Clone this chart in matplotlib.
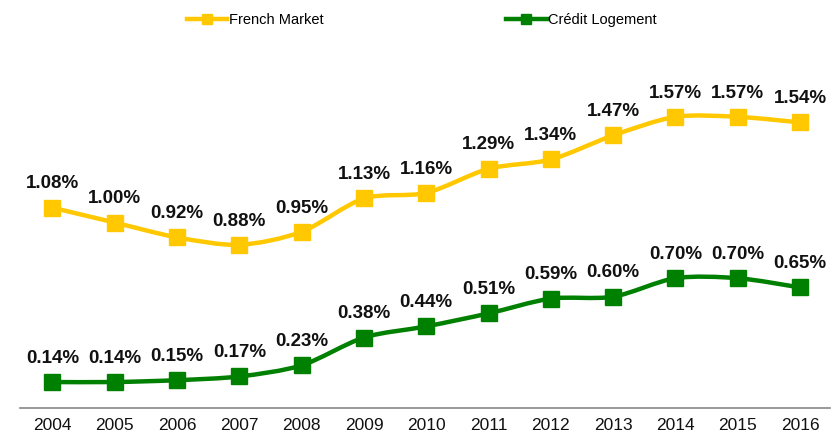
import matplotlib.pyplot as plt
from matplotlib.path import Path
from matplotlib.patches import PathPatch
from matplotlib.lines import Line2D

plt.rcParams['font.family'] = ['Liberation Sans', 'DejaVu Sans']

years = ['2004', '2005', '2006', '2007', '2008', '2009', '2010',
         '2011', '2012', '2013', '2014', '2015', '2016']
french_market = [1.08, 1.00, 0.92, 0.88, 0.95, 1.13, 1.16,
                 1.29, 1.34, 1.47, 1.57, 1.57, 1.54]
credit_logement = [0.14, 0.14, 0.15, 0.17, 0.23, 0.38, 0.44,
                   0.51, 0.59, 0.60, 0.70, 0.70, 0.65]

YELLOW = '#FFC800'
GREEN = '#008000'


def smooth_path(xs, ys, k=7.0):
    # bezier through each point, like a spreadsheet's smoothed line
    pts = list(zip(xs, ys))
    verts = [pts[0]]
    codes = [Path.MOVETO]
    n = len(pts)
    for i in range(n - 1):
        p0 = pts[i - 1] if i > 0 else pts[i]
        p1 = pts[i]
        p2 = pts[i + 1]
        p3 = pts[i + 2] if i + 2 < n else pts[i + 1]
        c1 = (p1[0] + (p2[0] - p0[0]) / k, p1[1] + (p2[1] - p0[1]) / k)
        c2 = (p2[0] - (p3[0] - p1[0]) / k, p2[1] - (p3[1] - p1[1]) / k)
        verts += [c1, c2, p2]
        codes += [Path.CURVE4] * 3
    return Path(verts, codes)


fig = plt.figure(figsize=(8.4, 4.4), dpi=100)
ax = fig.add_axes([20 / 840, 32 / 440, 810 / 840, 408 / 440])

x = list(range(len(years)))
for vals, col in [(french_market, YELLOW), (credit_logement, GREEN)]:
    ax.add_patch(PathPatch(smooth_path(x, vals), facecolor='none',
                           edgecolor=col, lw=3.2, capstyle='round', zorder=2))
    ax.plot(x, vals, ls='none', marker='s', ms=11.5, color=col, zorder=3)
    for xi, v in zip(x, vals):
        ax.annotate('{:.2f}%'.format(v), (xi, v), xytext=(0, 11),
                    textcoords='offset points', ha='center', va='bottom',
                    fontsize=13.5, fontweight='bold', color='#111111')

ax.set_xlim(-0.52, 12.48)
ax.set_ylim(0, 2.2)
ax.set_xticks(x)
ax.set_xticklabels(years, fontsize=12.5, color='#111111')
ax.set_yticks([])
for s in ['top', 'right', 'left']:
    ax.spines[s].set_visible(False)
ax.spines['bottom'].set_color('#888888')
ax.spines['bottom'].set_linewidth(1.2)
ax.tick_params(axis='x', length=0, pad=7)

handles = [Line2D([], [], color=YELLOW, lw=3.2, marker='s', ms=7),
           Line2D([], [], color=GREEN, lw=3.2, marker='s', ms=7)]
fig.legend(handles, ['French Market', 'Crédit Logement'], loc='upper center',
           bbox_to_anchor=(0.502, 1.0), ncol=2, frameon=False, fontsize=10.5,
           handlelength=2.8, handletextpad=0.1, columnspacing=12.5)

fig.savefig('out.png', dpi=100)
